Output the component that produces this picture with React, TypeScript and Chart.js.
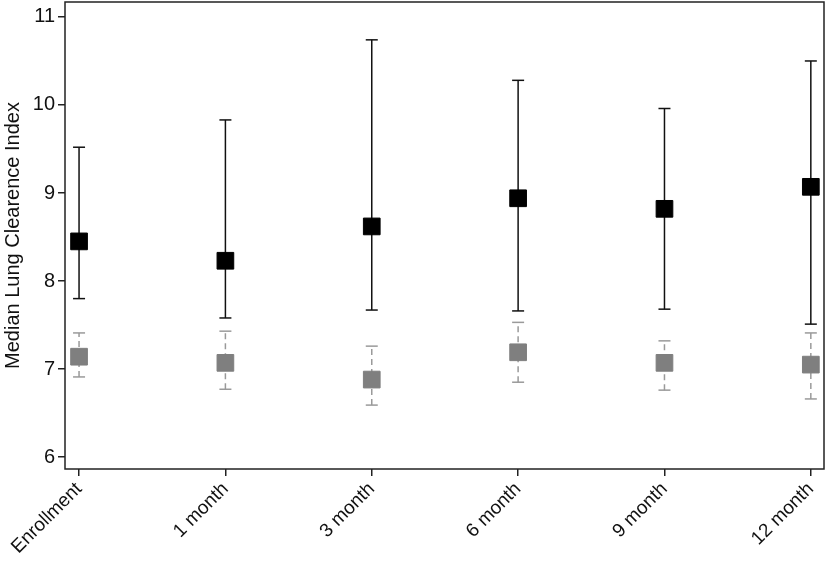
import React, { useEffect, useRef } from "react";
import { Chart, registerables } from "chart.js";

Chart.register(...registerables);

const categories = ["Enrollment", "1 month", "3 month", "6 month", "9 month", "12 month"];
const yTicks = [6, 7, 8, 9, 10, 11];

const blackMedian = [8.45, 8.23, 8.62, 8.94, 8.82, 9.07];
const blackUpper = [9.52, 9.83, 10.74, 10.28, 9.96, 10.5];
const blackLower = [7.8, 7.58, 7.67, 7.66, 7.68, 7.51];

const grayMedian = [7.14, 7.07, 6.88, 7.19, 7.07, 7.05];
const grayUpper = [7.41, 7.43, 7.26, 7.53, 7.32, 7.41];
const grayLower = [6.91, 6.77, 6.59, 6.85, 6.76, 6.66];

const FONT = "'Liberation Sans', Arial, Helvetica, sans-serif";

const errorBarPlugin = {
  id: "errorBars",
  beforeDatasetsDraw(chart: any) {
    const { ctx, scales } = chart;
    const xs = scales.x;
    const ys = scales.y;
    const drawSet = (lo: number[], hi: number[], color: string, dash: number[]) => {
      ctx.save();
      ctx.strokeStyle = color;
      ctx.lineWidth = 1.5;
      ctx.setLineDash(dash);
      for (let i = 0; i < lo.length; i++) {
        const x = xs.getPixelForValue(i);
        const y1 = ys.getPixelForValue(lo[i]);
        const y2 = ys.getPixelForValue(hi[i]);
        ctx.beginPath();
        ctx.moveTo(x, y1);
        ctx.lineTo(x, y2);
        ctx.stroke();
      }
      ctx.setLineDash([]);
      for (let i = 0; i < lo.length; i++) {
        const x = xs.getPixelForValue(i);
        for (const v of [lo[i], hi[i]]) {
          const y = ys.getPixelForValue(v);
          ctx.beginPath();
          ctx.moveTo(x - 6, y);
          ctx.lineTo(x + 6, y);
          ctx.stroke();
        }
      }
      ctx.restore();
    };
    drawSet(blackLower, blackUpper, "#111", []);
    drawSet(grayLower, grayUpper, "#9a9a9a", [6, 4]);
  },
  afterDraw(chart: any) {
    const { ctx, chartArea } = chart;
    ctx.save();
    ctx.strokeStyle = "#222";
    ctx.lineWidth = 1.5;
    ctx.strokeRect(chartArea.left, chartArea.top, chartArea.right - chartArea.left, chartArea.bottom - chartArea.top);
    ctx.restore();
  },
};

export default function App() {
  const ref = useRef<HTMLCanvasElement>(null);
  useEffect(() => {
    document.body.style.margin = "0";
    const chart = new Chart(ref.current!, {
      type: "scatter",
      data: {
        datasets: [
          {
            data: blackMedian.map((v, i) => ({ x: i, y: v })),
            backgroundColor: "#000",
            borderColor: "#000",
            borderWidth: 1,
            pointStyle: "rect",
            pointRadius: 11.8,
          },
          {
            data: grayMedian.map((v, i) => ({ x: i, y: v })),
            backgroundColor: "#7f7f7f",
            borderColor: "#7f7f7f",
            borderWidth: 1,
            pointStyle: "rect",
            pointRadius: 11.8,
          },
        ],
      },
      options: {
        animation: false,
        responsive: false,
        layout: { autoPadding: false, padding: { top: 2, right: 6, left: 0, bottom: 0 } },
        plugins: { legend: { display: false }, tooltip: { enabled: false } },
        scales: {
          x: {
            type: "linear",
            min: -0.096,
            max: 5.09,
            afterBuildTicks: (s: any) => {
              s.ticks = categories.map((_, i) => ({ value: i }));
            },
            afterFit: (s: any) => {
              s.height = 92;
              s.paddingLeft = 0;
              s.paddingRight = 0;
            },
            grid: { drawOnChartArea: false, drawTicks: true, tickLength: 7, color: "#222", lineWidth: 1.5 },
            border: { display: false },
            ticks: {
              autoSkip: false,
              minRotation: 45,
              maxRotation: 45,
              color: "#111",
              font: { family: FONT, size: 19 },
              padding: 2,
              callback: (v: any) => categories[Math.round(Number(v))] ?? "",
            },
          },
          y: {
            min: 5.864,
            max: 11.17,
            afterBuildTicks: (s: any) => {
              s.ticks = yTicks.map((v) => ({ value: v }));
            },
            afterFit: (s: any) => {
              s.width = 65;
              s.paddingTop = 0;
              s.paddingBottom = 0;
            },
            grid: { drawOnChartArea: false, drawTicks: true, tickLength: 7, color: "#222", lineWidth: 1.5 },
            border: { display: false },
            title: {
              display: true,
              text: "Median Lung Clearence Index",
              color: "#111",
              font: { family: FONT, size: 20 },
              padding: { top: 1, bottom: 0 },
            },
            ticks: {
              color: "#111",
              font: { family: FONT, size: 20 },
              padding: 3,
            },
          },
        },
      },
      plugins: [errorBarPlugin],
    } as any);
    return () => chart.destroy();
  }, []);
  return <canvas ref={ref} width={830} height={561} style={{ display: "block" }} />;
}
